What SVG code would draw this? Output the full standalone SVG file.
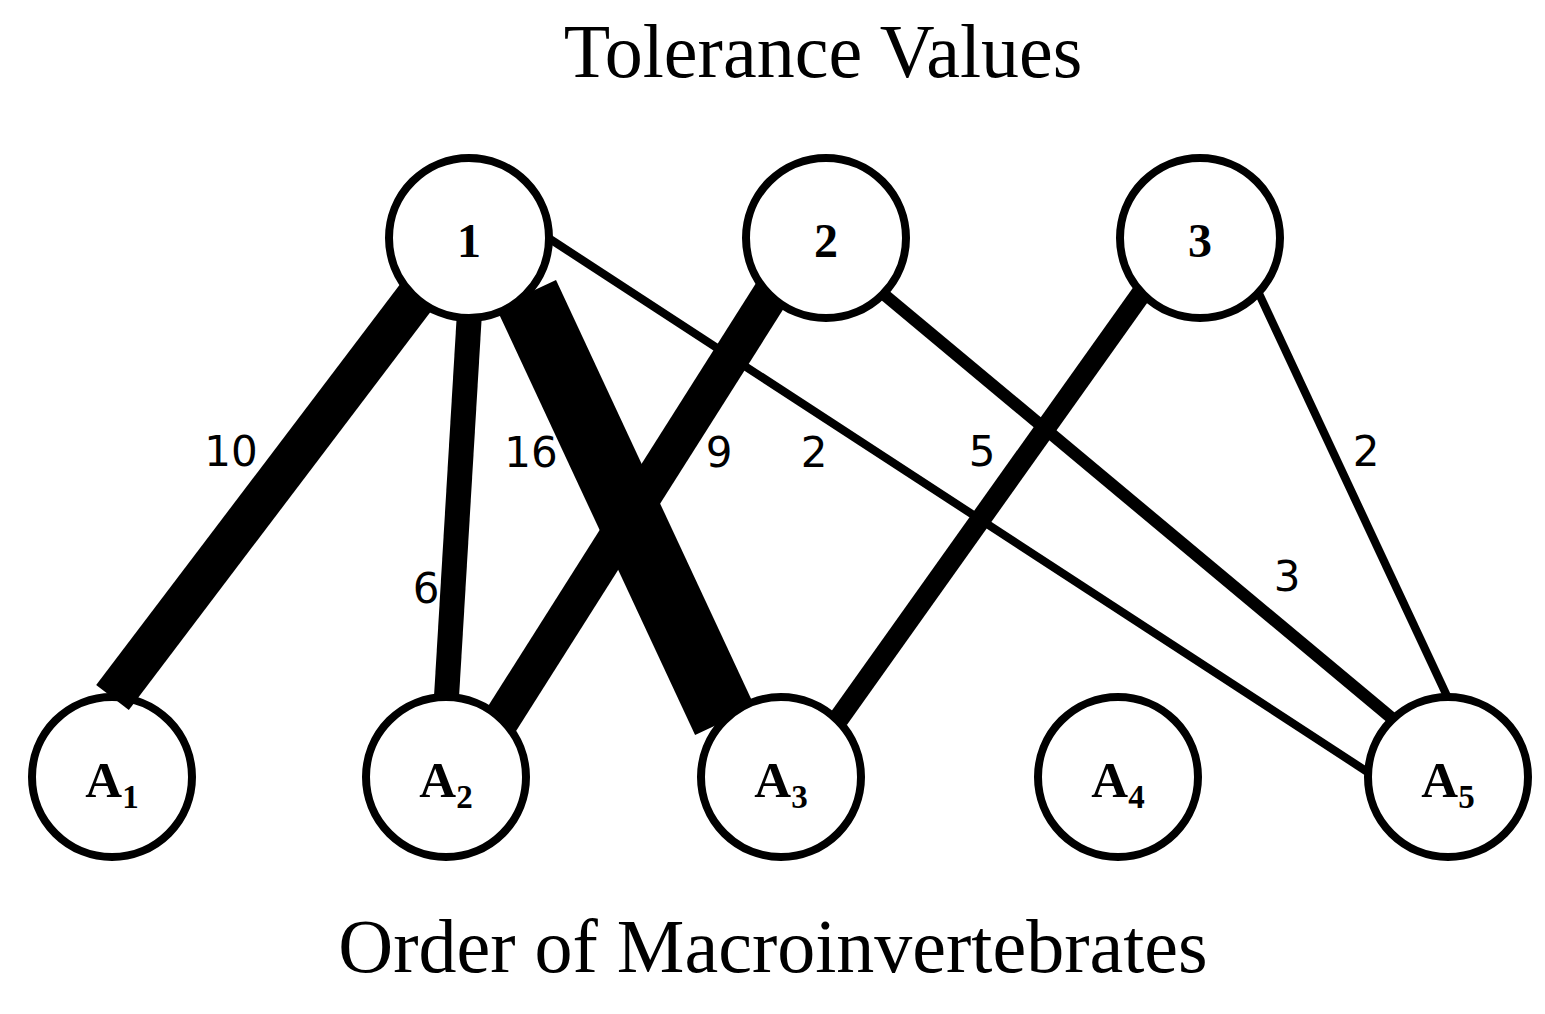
<svg xmlns="http://www.w3.org/2000/svg" width="1545" height="1014" viewBox="0 0 1545 1014">
<style>
.bg{fill:#fff}
.node{fill:#fff;stroke:#000;stroke-width:8}
.edge{stroke:#000;stroke-linecap:butt;fill:none}
.nl{font-family:"Liberation Serif","Times New Roman",serif;font-weight:bold;fill:#000;text-anchor:middle}
.top{font-size:48px}
.bot{font-size:51px}
.sub{font-size:33px}
.wl{font-family:"DejaVu Sans",Verdana,sans-serif;font-size:42px;fill:#000;text-anchor:middle}
.title{font-family:"Liberation Serif","Times New Roman",serif;font-size:76px;fill:#000;text-anchor:middle}
</style>
<rect class="bg" x="0" y="0" width="1545" height="1014"/>
<text class="title" x="823" y="77">Tolerance Values</text>
<text class="title" x="773" y="972">Order of Macroinvertebrates</text>

<g id="node-A1">
<circle class="node" cx="112" cy="777" r="80"/>
<text class="nl bot" x="112" y="797">A<tspan class="sub" dy="11">1</tspan></text>
</g>

<g id="connectors">
<line class="edge" x1="426.6" y1="283.1" x2="112.5" y2="697.5" stroke-width="41"/>
<line class="edge" x1="469.5" y1="312" x2="446.5" y2="697" stroke-width="25"/>
<line class="edge" x1="526.1" y1="294" x2="725" y2="721" stroke-width="66"/>
<line class="edge" x1="544.6" y1="235.5" x2="1373.2" y2="775.7" stroke-width="8.2"/>
<line class="edge" x1="776" y1="286.2" x2="500.3" y2="721.4" stroke-width="37"/>
<line class="edge" x1="875.2" y1="287.1" x2="1391" y2="717.5" stroke-width="12.3"/>
<line class="edge" x1="1145.9" y1="287.1" x2="838.5" y2="719" stroke-width="20.5"/>
<line class="edge" x1="1252" y1="278.7" x2="1447" y2="696" stroke-width="8.2"/>
<text class="wl" x="231" y="466">10</text>
<text class="wl" x="426" y="603">6</text>
<text class="wl" x="531" y="467">16</text>
<text class="wl" x="719" y="467">9</text>
<text class="wl" x="814" y="467">2</text>
<text class="wl" x="982" y="466">5</text>
<text class="wl" x="1366" y="466">2</text>
<text class="wl" x="1287" y="591">3</text>
</g>

<g id="node-1">
<circle class="node" cx="469" cy="238" r="80"/>
<text class="nl top" x="469" y="257">1</text>
</g>
<g id="node-2">
<circle class="node" cx="826" cy="238" r="80"/>
<text class="nl top" x="826" y="257">2</text>
</g>
<g id="node-3">
<circle class="node" cx="1200" cy="238" r="80"/>
<text class="nl top" x="1200" y="257">3</text>
</g>
<g id="node-A2">
<circle class="node" cx="446" cy="777" r="80"/>
<text class="nl bot" x="446" y="797">A<tspan class="sub" dy="11">2</tspan></text>
</g>
<g id="node-A3">
<circle class="node" cx="781" cy="777" r="80"/>
<text class="nl bot" x="781" y="797">A<tspan class="sub" dy="11">3</tspan></text>
</g>
<g id="node-A4">
<circle class="node" cx="1118" cy="777" r="80"/>
<text class="nl bot" x="1118" y="797">A<tspan class="sub" dy="11">4</tspan></text>
</g>
<g id="node-A5">
<circle class="node" cx="1448" cy="777" r="80"/>
<text class="nl bot" x="1448" y="797">A<tspan class="sub" dy="11">5</tspan></text>
</g>
</svg>
